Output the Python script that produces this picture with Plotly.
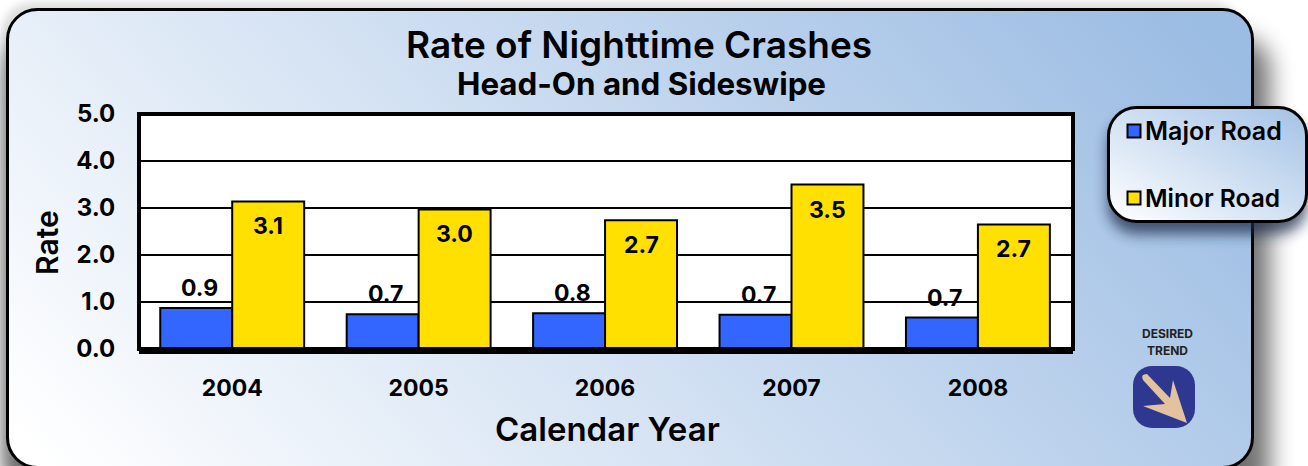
import base64
import plotly.graph_objects as go

years = ["2004", "2005", "2006", "2007", "2008"]
major_road = [0.87, 0.74, 0.76, 0.73, 0.67]
minor_road = [3.14, 2.97, 2.74, 3.50, 2.65]
major_labels = ["0.9", "0.7", "0.8", "0.7", "0.7"]
minor_labels = ["3.1", "3.0", "2.7", "3.5", "2.7"]
y_ticks = [0, 1, 2, 3, 4, 5]
y_tick_labels = ["0.0", "1.0", "2.0", "3.0", "4.0", "5.0"]

FONT = "Inter"
W, H = 1308, 466

svg = f'''<svg xmlns="http://www.w3.org/2000/svg" width="{W}" height="{H}" viewBox="0 0 {W} {H}">
<defs>
<linearGradient id="g" gradientUnits="userSpaceOnUse" x1="200" y1="640" x2="1060" y2="-130">
<stop offset="0" stop-color="#ffffff"/><stop offset="1" stop-color="#9bbce3"/></linearGradient>
<linearGradient id="l" gradientUnits="objectBoundingBox" x1="0" y1="1" x2="1" y2="0">
<stop offset="0" stop-color="#ffffff"/><stop offset="1" stop-color="#a3c2e6"/></linearGradient>
<filter id="s" x="-10%" y="-20%" width="125%" height="150%"><feGaussianBlur stdDeviation="12"/></filter>
<filter id="s3" x="-5%" y="-10%" width="110%" height="120%"><feGaussianBlur stdDeviation="4"/></filter>
<filter id="s2" x="-20%" y="-30%" width="140%" height="170%"><feGaussianBlur stdDeviation="7"/></filter>
</defs>
<rect x="2" y="2" width="1240" height="480" rx="30" fill="#000" opacity="0.13" filter="url(#s3)"/>
<rect x="4" y="38" width="1266" height="470" rx="30" fill="#000" opacity="0.55" filter="url(#s)"/>
<rect x="7.5" y="9.5" width="1245" height="458" rx="30" fill="url(#g)" stroke="#000" stroke-width="3"/>
<rect x="1108" y="118" width="199" height="116" rx="28" fill="#1a2a4a" opacity="0.75" filter="url(#s2)"/>
<rect x="1108.5" y="107.5" width="198" height="114" rx="28" fill="url(#l)" stroke="#000" stroke-width="3"/>
<rect x="1133" y="366" width="62" height="62" rx="19" fill="#2e3890"/>
<path d="M1147 374 L1170 398 L1173 380 L1187 423 L1143 406 L1165 404 L1143 380 Q1140 374 1147 374 Z" fill="#e3c2a0"/>
</svg>'''
bg = "data:image/svg+xml;base64," + base64.b64encode(svg.encode()).decode()

fig = go.Figure()
fig.add_bar(name="Major Road", x=years, y=major_road,
            marker=dict(color="#3366ff", line=dict(color="#000", width=2)))
fig.add_bar(name="Minor Road", x=years, y=minor_road,
            marker=dict(color="#ffe000", line=dict(color="#000", width=2)))

ann = []
BAR_OFF = 36
for i, yr in enumerate(years):
    ann.append(dict(xref="x", yref="y", x=i, y=major_road[i], text=major_labels[i], xshift=-33, yshift=20,
                    xanchor="center", yanchor="middle",
                    showarrow=False, font=dict(family=FONT, size=23, color="#000", weight=700)))
    ann.append(dict(xref="x", yref="y", x=i, y=minor_road[i], text=minor_labels[i], xshift=BAR_OFF, yshift=-25,
                    xanchor="center", yanchor="middle",
                    showarrow=False, font=dict(family=FONT, size=23, color="#000", weight=700)))

def txt(x, y, text, size, weight=700, color="#000", anchor="center", angle=0):
    ann.append(dict(xref="paper", yref="paper", x=(x - 139) / 934, y=(349 - y) / 235,
                    text=text, showarrow=False, xanchor=anchor, yanchor="middle", textangle=angle,
                    font=dict(family=FONT, size=size, color=color, weight=weight)))

txt(639, 44, "Rate of Nighttime Crashes", 37, 600)
txt(641, 84, "Head-On and Sideswipe", 31.3, 700)
txt(1143, 131, "Major Road", 25, 600, anchor="left")
txt(1143, 198, "Minor Road", 24.5, 600, anchor="left")
txt(1167, 333, "DESIRED", 12, 700, "#222")
txt(1167, 350, "TREND", 12, 700, "#222")
txt(607, 429, "Calendar Year", 33, 600)
txt(47, 243, "Rate", 30, 600, angle=-90)

def swatch(y, color):
    return dict(type="rect", xref="paper", yref="paper",
                x0=(1127.5 - 139) / 934, x1=(1140.5 - 139) / 934,
                y0=(349 - (y + 6.5)) / 235, y1=(349 - (y - 6.5)) / 235,
                fillcolor=color, line=dict(color="#000", width=2), layer="above")

fig.update_layout(
    width=W, height=H, autosize=False,
    margin=dict(l=139, r=W - 1073, t=114, b=H - 349, pad=0),
    paper_bgcolor="rgba(0,0,0,0)", plot_bgcolor="#fff",
    barmode="group", bargap=0.228, bargroupgap=0, showlegend=False,
    font=dict(family=FONT, color="#000"),
    annotations=ann,
    images=[dict(source=bg, xref="paper", yref="paper", x=-139 / 934, y=(349) / 235,
                 sizex=W / 934, sizey=H / 235, xanchor="left", yanchor="top",
                 sizing="stretch", layer="below")],
    shapes=[dict(type="rect", xref="paper", yref="paper", x0=0, x1=1, y0=0, y1=1,
                 fillcolor="#fff", line=dict(width=0), layer="below"),
            dict(type="rect", xref="paper", yref="paper", x0=0, x1=1, y0=0, y1=1,
                 line=dict(color="#000", width=4), layer="above"),
            swatch(131, "#3366ff"), swatch(198, "#ffe000")],
    xaxis=dict(type="category", categoryorder="array", categoryarray=years, range=[-0.5, 4.51],
               tickfont=dict(size=23, weight=700), ticks="outside", ticklen=14,
               tickcolor="rgba(0,0,0,0)",
               showline=True, linecolor="#000", linewidth=5, showgrid=False, zeroline=False),
    yaxis=dict(range=[0, 5], tickvals=y_ticks, ticktext=y_tick_labels,
               tickfont=dict(size=24, weight=700), ticks="outside", ticklen=18, tickcolor="rgba(0,0,0,0)",
               showgrid=True, gridcolor="#000", gridwidth=2, zeroline=False),
)
fig.write_html("out.html", config=dict(displayModeBar=False),
               post_script="document.body.style.margin='0';document.body.style.background='#fff';")
